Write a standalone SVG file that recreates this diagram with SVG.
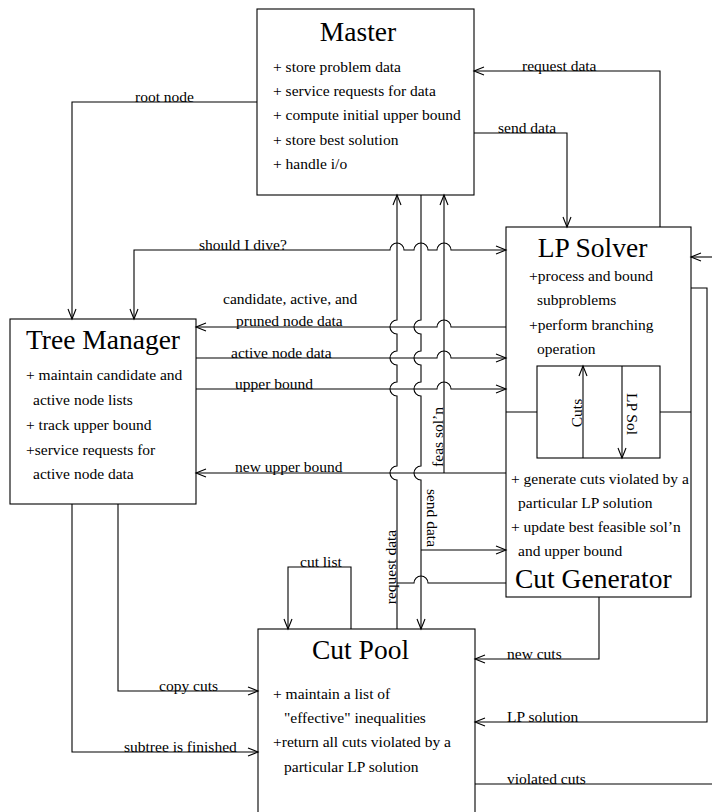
<svg xmlns="http://www.w3.org/2000/svg" width="712" height="812" viewBox="0 0 712 812">
<style>
.box{fill:#fff;stroke:#000;stroke-width:1.1}
.ln{fill:none;stroke:#000;stroke-width:1.1}
.arr{marker-end:url(#ah)}
text{font-family:"Liberation Serif","Times New Roman",serif;fill:#000}
.t{font-size:27.5px}
.i{font-size:15.5px}
.l{font-size:15.5px}
</style>
<defs>
<marker id="ah" markerUnits="userSpaceOnUse" markerWidth="14" markerHeight="12" refX="0" refY="0" viewBox="-12 -6 14 12" orient="auto-start-reverse" overflow="visible">
<path d="M-10,-4 L0,0 L-10,4" fill="none" stroke="#000" stroke-width="1.1"/>
</marker>
</defs>
<rect width="712" height="812" fill="#fff"/>

<g id="master">
<rect class="box" x="257" y="9" width="217" height="186"/>
<text class="t" x="358" y="41" text-anchor="middle">Master</text>
<text class="i" x="273" y="72">+ store problem data</text>
<text class="i" x="273" y="96">+ service requests for data</text>
<text class="i" x="273" y="120">+ compute initial upper bound</text>
<text class="i" x="273" y="145">+ store best solution</text>
<text class="i" x="273" y="169">+ handle i/o</text>
</g>

<g id="tree-manager">
<rect class="box" x="10" y="319" width="186" height="185"/>
<text class="t" x="26" y="349">Tree Manager</text>
<text class="i" x="26" y="380">+ maintain candidate and</text>
<text class="i" x="33" y="405">active node lists</text>
<text class="i" x="26" y="430">+ track upper bound</text>
<text class="i" x="26" y="455">+service requests for</text>
<text class="i" x="33" y="479">active node data</text>
</g>

<g id="lp-solver-cut-generator">
<rect class="box" x="506" y="227" width="185" height="370"/>
<text class="t" x="592.5" y="257" text-anchor="middle">LP Solver</text>
<text class="i" x="529" y="281">+process and bound</text>
<text class="i" x="537" y="305">subproblems</text>
<text class="i" x="529" y="330">+perform branching</text>
<text class="i" x="537" y="354">operation</text>
<rect class="box" x="537" y="366" width="123" height="92"/>
<path class="ln" d="M506,412 H537 M660,412 H691"/>
<path class="ln arr" d="M583,458 V366"/>
<path class="ln arr" d="M622,366 V458"/>
<text class="i" transform="translate(582,413) rotate(-90)" text-anchor="middle">Cuts</text>
<text class="i" transform="translate(627,414) rotate(90)" text-anchor="middle">LP Sol</text>
<text class="i" x="511" y="484">+ generate cuts violated by a</text>
<text class="i" x="518" y="508">particular LP solution</text>
<text class="i" x="511" y="532">+ update best feasible sol’n</text>
<text class="i" x="518" y="556">and upper bound</text>
<text class="t" x="515" y="588">Cut Generator</text>
</g>

<g id="cut-pool">
<rect class="box" x="258" y="629" width="217" height="200"/>
<text class="t" x="312" y="659">Cut Pool</text>
<text class="i" x="273" y="699">+ maintain a list of</text>
<text class="i" x="284" y="723">"effective" inequalities</text>
<text class="i" x="273" y="747">+return all cuts violated by a</text>
<text class="i" x="284" y="772">particular LP solution</text>
</g>

<g id="connectors">
<path class="ln arr" d="M257,102 H72 V319"/>
<path class="ln arr" style="marker-start:url(#ah)" d="M134,319 V250 H390 a7,7 0 0 1 14,0 H414 a7,7 0 0 1 14,0 H437 a7,7 0 0 1 14,0 H506"/>
<path class="ln arr" d="M506,327 H451 a7,7 0 0 0 -14,0 H196"/>
<path class="ln arr" d="M196,358 H437 a7,7 0 0 1 14,0 H506"/>
<path class="ln arr" d="M196,389 H437 a7,7 0 0 1 14,0 H506"/>
<path class="ln arr" d="M506,473 H196"/>
<path class="ln arr" d="M397,629 V480 a7,7 0 0 1 0,-14 V396 a7,7 0 0 1 0,-14 V365 a7,7 0 0 1 0,-14 V334 a7,7 0 0 1 0,-14 V195"/>
<path class="ln" d="M397,583 H414 a7,7 0 0 1 14,0 H506"/>
<path class="ln arr" d="M421,195 V320 a7,7 0 0 0 0,14 V351 a7,7 0 0 0 0,14 V382 a7,7 0 0 0 0,14 V466 a7,7 0 0 0 0,14 V629"/>
<path class="ln arr" d="M421,550 H506"/>
<path class="ln arr" d="M444,473 V195"/>
<path class="ln arr" d="M660,227 V71 H474"/>
<path class="ln arr" d="M474,133 H567 V227"/>
<path class="ln arr" d="M691,288 H707 V722 H475"/>
<path class="ln" d="M475,784 H712"/>
<path class="ln arr" d="M712,257 H691"/>
<path class="ln arr" d="M599,597 V659 H475"/>
<path class="ln arr" d="M118,504 V691 H258"/>
<path class="ln arr" d="M72,504 V752 H258"/>
<path class="ln arr" d="M351,629 V567 H288 V629"/>
<text class="l" x="135" y="102">root node</text>
<text class="l" x="522" y="71">request data</text>
<text class="l" x="498" y="133">send data</text>
<text class="l" x="199" y="250">should I dive?</text>
<text class="l" x="223" y="304">candidate, active, and</text>
<text class="l" x="236" y="326">pruned node data</text>
<text class="l" x="231" y="358">active node data</text>
<text class="l" x="235" y="389">upper bound</text>
<text class="l" x="235" y="472">new upper bound</text>
<text class="l" transform="translate(443,437) rotate(-90)" text-anchor="middle">feas sol’n</text>
<text class="l" transform="translate(427,518) rotate(90)" text-anchor="middle">send data</text>
<text class="l" transform="translate(396,567) rotate(-90)" text-anchor="middle">request data</text>
<text class="l" x="300" y="567">cut list</text>
<text class="l" x="507" y="659">new cuts</text>
<text class="l" x="159" y="691">copy cuts</text>
<text class="l" x="507" y="722">LP solution</text>
<text class="l" x="124" y="752">subtree is finished</text>
<text class="l" x="507" y="784">violated cuts</text>
</g>
</svg>
